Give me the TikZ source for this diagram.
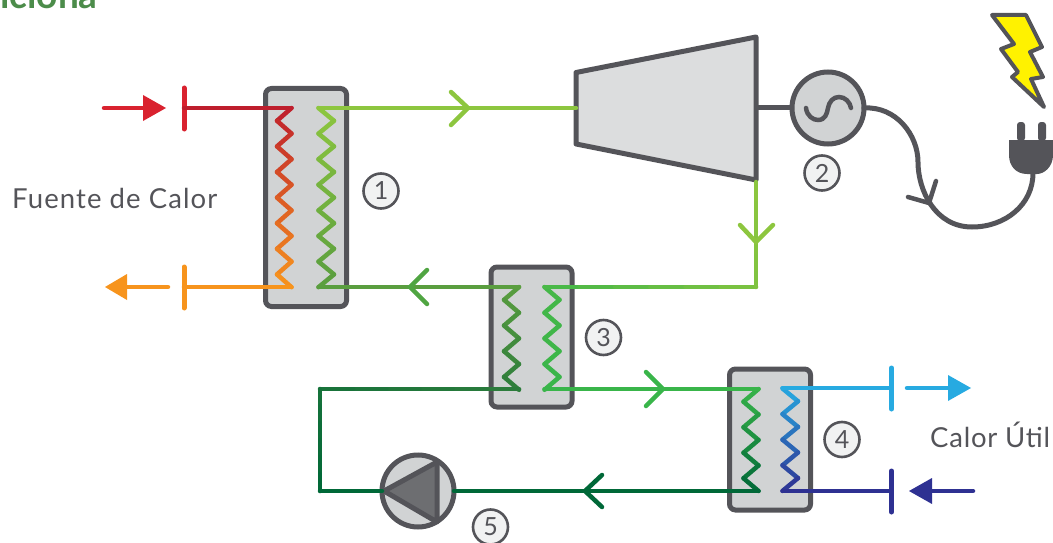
\documentclass[tikz,border=0pt]{standalone}
\usepackage{fontspec}
\setmainfont{Lato}
\definecolor{dk}{HTML}{545459}
\definecolor{boxf}{HTML}{D1D3D4}
\definecolor{turb}{HTML}{DCDDDE}
\definecolor{numf}{HTML}{F1F2F2}
\definecolor{txt}{HTML}{545459}
\definecolor{pumpf}{HTML}{6D6E71}
\definecolor{red1}{HTML}{D9222F}
\definecolor{red2}{HTML}{BE1E2D}
\definecolor{org}{HTML}{F7941D}
\definecolor{lg}{HTML}{8DC63F}
\definecolor{mg}{HTML}{5A9E3F}
\definecolor{g3}{HTML}{39B54A}
\definecolor{g4}{HTML}{2E7D3C}
\definecolor{g5}{HTML}{006838}
\definecolor{sky}{HTML}{27AAE1}
\definecolor{navy}{HTML}{2E3192}
\definecolor{volt}{HTML}{FFF200}
\definecolor{ttl}{HTML}{4C8C4A}
\tikzset{
  hx/.style={draw=dk,fill=boxf,line width=5pt,rounded corners=6pt,inner sep=0pt,outer sep=0pt},
  rot/.style={draw=dk,fill=boxf,line width=5pt,circle,inner sep=0pt,outer sep=0pt,minimum size=72pt},
  num/.style={draw=dk,fill=numf,line width=2.6pt,circle,inner sep=0pt,minimum size=35pt,text=txt,font=\fontsize{25}{25}\selectfont},
  lbl/.style={text=txt,font=\fontsize{27.5}{28}\selectfont\addfontfeature{LetterSpace=4},inner sep=0pt},
  lblb/.style={text=txt,font=\fontsize{27.5}{28}\selectfont\addfontfeature{LetterSpace=2.8},inner sep=0pt},
  pipe/.style={line width=4.5pt,line cap=round,line join=round},
  chev/.style={line width=4.5pt,line cap=round,line join=miter},
  dkl/.style={draw=dk,line width=5pt,line cap=round,line join=round},
  bar/.style={line width=5pt,line cap=round}
}
% colour-graded straight segment: x0 y0 x1 y1 colA colB pctA pctB (pct = share of colA)
\newcommand{\gseg}[8]{%
  \foreach \gi in {1,...,6}{%
    \pgfmathsetmacro{\ga}{#1+(#3-#1)*(\gi-1)/6}%
    \pgfmathsetmacro{\gb}{#2+(#4-#2)*(\gi-1)/6}%
    \pgfmathsetmacro{\gc}{#1+(#3-#1)*\gi/6}%
    \pgfmathsetmacro{\gd}{#2+(#4-#2)*\gi/6}%
    \pgfmathsetmacro{\gp}{#7+(#8-#7)*(\gi-.5)/6}%
    \draw[pipe,color=#5!\gp!#6] (\ga,\gb) -- (\gc,\gd);%
  }%
}
% zigzag: x at even steps, x at odd steps, ytop, step height, steps, colour top, colour bottom
\newcommand{\zigz}[7]{%
  \pgfmathtruncatemacro{\zn}{#5-1}%
  \foreach \zi in {0,...,\zn}{%
    \pgfmathsetmacro{\zya}{#3+#4*\zi}%
    \pgfmathsetmacro{\zyb}{#3+#4*(\zi+1)}%
    \pgfmathsetmacro{\zp}{100-100*(\zi+.5)/#5}%
    \pgfmathtruncatemacro{\zodd}{mod(\zi,2)}%
    \ifnum\zodd=0
      \draw[pipe,color=#6!\zp!#7] (#1,\zya) -- (#2,\zyb);%
    \else
      \draw[pipe,color=#6!\zp!#7] (#2,\zya) -- (#1,\zyb);%
    \fi
  }%
}
\begin{document}
\begin{tikzpicture}[x=1pt,y=-1pt]
\useasboundingbox (0,0) rectangle (1053,543);
\clip (0,0) rectangle (1053,543);

% clipped title fragment
\node[anchor=base west,inner sep=0pt,text=ttl,font=\fontsize{37}{37}\selectfont\bfseries] (title) at (0,9) {iciona};

% heat exchangers
\node[hx,minimum width=81pt,minimum height=218pt] (hxa) at (306,197.5) {};
\node[hx,minimum width=81pt,minimum height=140pt] (hxb) at (531.5,337) {};
\node[hx,minimum width=81pt,minimum height=141pt] (hxc) at (770,439.5) {};

% turbine
\coordinate (tin) at (576,108);
\coordinate (tshaft) at (756,108);
\coordinate (tout) at (756,182);
\draw[draw=dk,fill=turb,line width=5pt,line join=round] (576,72.5) -- (756,37) -- (756,180) -- (576,144) -- cycle;

% rotors
\node[rot] (gen) at (828,108) {};
\node[rot] (pump) at (418,491) {};
\draw[dkl,line cap=butt] (tshaft) -- (gen.west);

% generator sine
\draw[dk,line width=4.5pt,line cap=round] (806,108) .. controls (807,116) and (813,120) .. (818,120) .. controls (825,120) and (827,114) .. (828,108) .. controls (829,102) and (833,97) .. (839,97) .. controls (845,97) and (850,102) .. (851,108);

% pump triangle
\draw[draw=dk,fill=pumpf,line width=5pt,line join=round] (384,491) -- (437,462) -- (437,522) -- cycle;

% cable
\coordinate (plugc) at (1033,173);
\draw[dk,line width=5pt,line cap=round] (gen.east) .. controls (896,106) and (918,135) .. (918,162) .. controls (918,190) and (935,227) .. (972,227) .. controls (1005,227) and (1033,205) .. (1033,173);
\draw[dkl,line width=4.5pt,line join=miter] (908,197) -- (929,203) -- (936,181);

% plug
\draw[fill=dk,draw=none] (1009,140) -- (1053,140) -- (1053,155) .. controls (1053,167) and (1044,174) .. (1037,174) -- (1027,174) .. controls (1016,174) and (1009,166) .. (1009,155) -- cycle;
\draw[fill=dk,draw=none,rounded corners=3pt] (1017,141) -- (1017,122) -- (1025,122) -- (1025,141) -- cycle;
\draw[fill=dk,draw=none,rounded corners=3pt] (1038,141) -- (1038,122) -- (1046,122) -- (1046,141) -- cycle;

% lightning
\draw[draw=dk,fill=volt,line width=4pt,line join=round] (992,15) -- (1026,15) -- (1042,47) -- (1030,52) -- (1043,77) -- (1031,79) -- (1044,107) -- (1012,77) -- (1018,72) -- (1001,49) -- (1014,44) -- cycle;

% zigzags
\zigz{291.5}{277}{108}{12.8}{14}{red2}{org}
\zigz{318.5}{334}{108}{12.8}{14}{lg}{mg}
\zigz{519}{504}{287}{12.85}{8}{mg}{g4}
\zigz{544.5}{559.5}{287}{12.85}{8}{g3!85!lg}{g3}
\zigz{758.5}{743.5}{389}{12.75}{8}{g3}{g5}
\zigz{782.5}{798}{388.5}{12.8}{8}{sky}{navy}

% hot source
\coordinate (ra) at (104,108);
\coordinate (rb) at (143,108);
\coordinate (rbar) at (184,108);
\coordinate (rz) at (291.5,108);
\draw[pipe,draw=red1] (ra) -- (rb);
\fill[red1] (143,95) -- (166,108) -- (143,121) -- cycle;
\draw[bar,draw=red1] (184,88) -- (184,129);
\draw[pipe,draw=red2] (rbar) -- (rz);

\coordinate (oa) at (168,287);
\coordinate (ob) at (127,287);
\coordinate (obar) at (184,287);
\coordinate (oz) at (291.5,287);
\draw[pipe,draw=org] (oa) -- (ob);
\fill[org] (127,274) -- (105,287) -- (127,300) -- cycle;
\draw[bar,draw=org] (184,267) -- (184,308);
\draw[pipe,draw=org] (obar) -- (oz);

% working fluid loop
\coordinate (w1) at (318.5,108);
\draw[pipe,draw=lg] (w1) -- (tin);
\draw[chev,draw=lg] (451,92) -- (468,108) -- (451,125);

\gseg{544.5}{287}{756}{287}{g3!85!lg}{lg}{100}{20}
\gseg{756}{287}{756}{182}{g3!85!lg}{lg}{20}{0}
\draw[chev,draw=lg] (740,225) -- (756,242) -- (773,225);

\draw[pipe,draw=mg] (318.5,287) -- (519,287);
\draw[chev,draw=mg!70!g3] (427,270) -- (410,287) -- (427,304);

\gseg{519}{389}{320}{389}{g4}{g5}{100}{50}
\gseg{320}{389}{320}{491}{g4}{g5}{50}{0}
\draw[pipe,draw=g5] (320,491) -- (pump.west);

\draw[pipe,draw=g3] (544.5,389) -- (758.5,389);
\draw[chev,draw=g3] (646,372) -- (663,389) -- (646,406);

\draw[pipe,draw=g5] (pump.east) -- (758.5,491);
\draw[chev,draw=g5] (602,475) -- (585,491) -- (602,507);

% useful heat
\coordinate (sz) at (782.5,388);
\coordinate (sbar) at (891.5,388);
\draw[pipe,draw=sky] (sz) -- (sbar);
\draw[bar,draw=sky] (891.5,368) -- (891.5,409);
\draw[pipe,draw=sky] (907,388) -- (948,388);
\fill[sky] (948,375) -- (971,388) -- (948,401) -- cycle;

\coordinate (nz) at (782.5,491);
\coordinate (nbar) at (891.5,491);
\draw[pipe,draw=navy] (nz) -- (nbar);
\draw[bar,draw=navy] (891.5,471) -- (891.5,512);
\draw[pipe,draw=navy] (973,491) -- (932,491);
\fill[navy] (932,478) -- (909,491) -- (932,504) -- cycle;

% numbers
\node[num] (n1) at (381,191) {1};
\node[num] (n2) at (822,173) {2};
\node[num] (n3) at (603.5,337.5) {3};
\node[num] (n4) at (842,439.5) {4};
\node[num] (n5) at (490.5,527) {5};

% labels
\node[lbl,anchor=base west] (fc) at (12,208) {Fuente de Calor};
\node[lblb,anchor=base west] (cu) at (930,447) {Calor Útil};
\end{tikzpicture}
\end{document}
